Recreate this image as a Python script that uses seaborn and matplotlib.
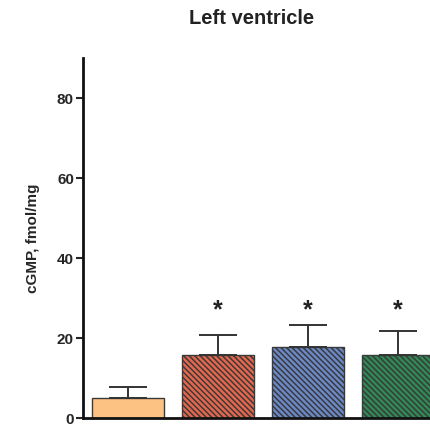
import numpy as np
import pandas as pd
import matplotlib
matplotlib.use('Agg')
import matplotlib.pyplot as plt
import seaborn as sns

# values
groups = ['Control', 'Group A', 'Group B', 'Group C']
cgmp_mean = [5.1, 15.8, 17.8, 15.8]
cgmp_sem = [2.7, 5.0, 5.4, 6.0]
significant = [False, True, True, True]
bar_colors = ['#FCC284', '#E8674C', '#6B89C9', '#2F8A55']
bar_hatches = ['', '\\' * 6, '\\' * 6, '\\' * 6]

sns.set_style('white')
plt.rcParams['font.family'] = ['Liberation Sans', 'DejaVu Sans']
plt.rcParams['hatch.color'] = '#2a2a2a'
plt.rcParams['hatch.linewidth'] = 1.1

df = pd.DataFrame({'group': groups, 'cgmp': cgmp_mean})

fig = plt.figure(figsize=(4.3, 4.26), dpi=100)
ax = fig.add_axes([83 / 430, 8 / 426, 347 / 430, 360 / 426])

sns.barplot(data=df, x='group', y='cgmp', hue='group', palette=bar_colors,
            saturation=1, legend=False, width=0.8, edgecolor='#3a3a3a',
            linewidth=1.0, ax=ax)
for patch, h in zip(ax.patches, bar_hatches):
    patch.set_hatch(h)

x = np.arange(len(groups))
ax.errorbar(x, cgmp_mean, yerr=[np.zeros(len(groups)), cgmp_sem], fmt='none',
            ecolor='#333333', elinewidth=1.4, capsize=13.5, capthick=1.4, zorder=1)

for xi, sig in zip(x, significant):
    if sig:
        ax.text(xi, 23.8, '*', ha='center', va='bottom', fontsize=18,
                fontweight='bold', color='#222222')

ax.set_xlim(-0.5, 3.356)
ax.set_ylim(0, 90)
ax.set_yticks([0, 20, 40, 60, 80])
ax.set_xticks([])
ax.set_xlabel('')
ax.set_ylabel('cGMP, fmol/mg', fontsize=11, fontweight='bold', labelpad=12)
ax.tick_params(axis='y', direction='out', length=5, width=1.5, left=True,
               labelsize=11, pad=1.5)
for lbl in ax.get_yticklabels():
    lbl.set_fontweight('bold')
sns.despine(ax=ax, top=True, right=True)
for side in ['left', 'bottom']:
    ax.spines[side].set_linewidth(2)
    ax.spines[side].set_color('#111111')

fig.text(252 / 430, 1 - 18 / 426, 'Left ventricle', ha='center', va='center',
         fontsize=14.5, fontweight='bold', color='#222222')

fig.savefig('out.png', dpi=100)
